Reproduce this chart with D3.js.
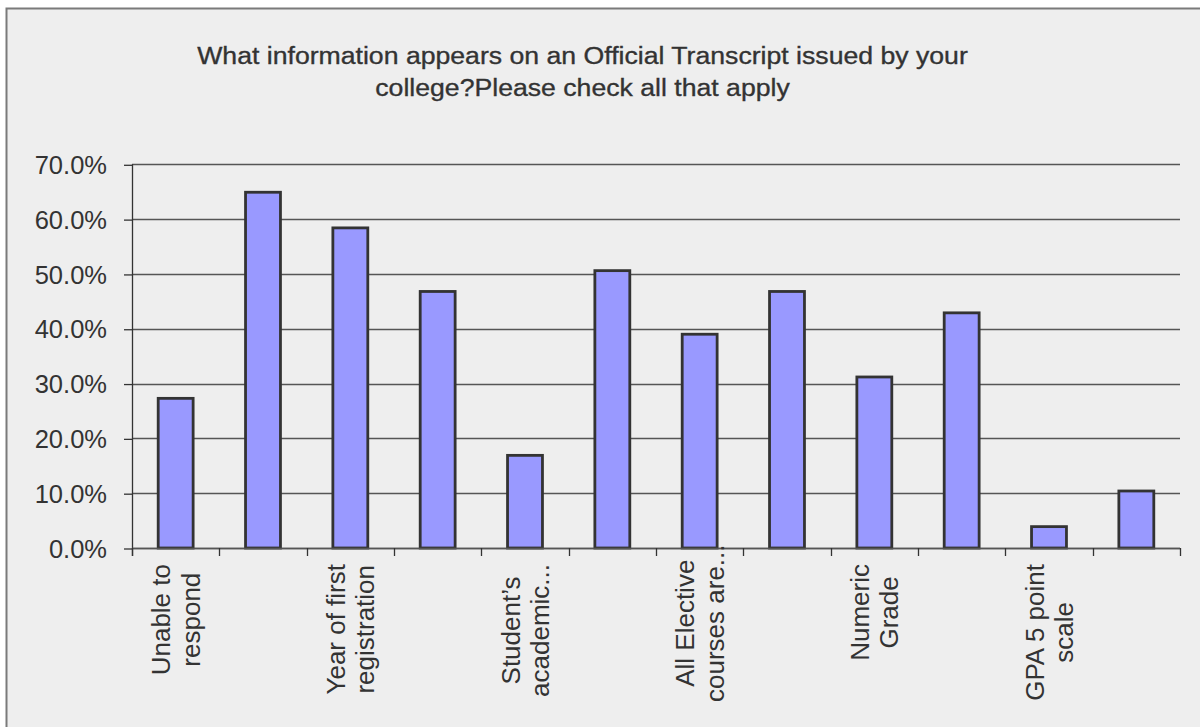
<!DOCTYPE html>
<html>
<head>
<meta charset="utf-8">
<script src="https://cdn.jsdelivr.net/npm/d3@7"></script>
<style>
  html, body { margin: 0; padding: 0; background: #ffffff; }
  svg { display: block; }
  text { font-family: "Liberation Sans", Arial, sans-serif; fill: #333333; }
</style>
</head>
<body>
<svg id="chart" width="1200" height="727"></svg>
<script>
// Survey answers: share of colleges reporting each item on the official transcript
const titleLines = [
  "What information appears on an Official Transcript issued by your",
  "college?Please check all that apply"
];
// Every other category label is shown on the axis; the rest stay blank
const categoryLabels = [
  ["Unable to", "respond"], [],
  ["Year of first", "registration"], [],
  ["Student\u2019s", "academic..."], [],
  ["All Elective", "courses are..."], [],
  ["Numeric", "Grade"], [],
  ["GPA 5 point", "scale"], []
];
const percentValues = [27.3, 64.9, 58.4, 46.8, 16.9, 50.6, 39.0, 46.8, 31.2, 42.9, 3.9, 10.4];
const yTickValues = [0, 10, 20, 30, 40, 50, 60, 70];

const svg = d3.select("#chart");

// Panel background with a thin frame on the top and left edges
svg.append("rect")
  .attr("x", 6.5).attr("y", 8.5)
  .attr("width", 1220).attr("height", 740)
  .attr("fill", "#eeeeee")
  .attr("stroke", "#7a7a7a")
  .attr("stroke-width", 2);

const plot = { left: 132, right: 1180, top: 164.3, bottom: 548 };

const x = d3.scaleBand()
  .domain(d3.range(percentValues.length))
  .range([plot.left, plot.right])
  .paddingInner(0.6)
  .paddingOuter(0.3);

const y = d3.scaleLinear()
  .domain([0, 70])
  .range([plot.bottom, plot.top]);

// Horizontal gridlines
svg.append("g")
  .selectAll("line")
  .data(yTickValues)
  .join("line")
  .attr("x1", plot.left).attr("x2", plot.right)
  .attr("y1", d => Math.round(y(d)) + 0.5)
  .attr("y2", d => Math.round(y(d)) + 0.5)
  .attr("stroke", "#555555")
  .attr("stroke-width", 1.3);

// Y axis with percentage labels
const yAxis = svg.append("g")
  .attr("transform", `translate(${plot.left},0)`)
  .call(d3.axisLeft(y)
    .tickValues(yTickValues)
    .tickSize(8)
    .tickPadding(17)
    .tickFormat(d => d3.format(".1f")(d) + "%"));
yAxis.select(".domain").remove();
yAxis.selectAll(".tick line").attr("stroke", "#333333").attr("stroke-width", 1.3)
  .attr("transform", "translate(0,0.5)");
yAxis.selectAll(".tick text")
  .attr("font-size", 25.5)
  .attr("font-family", "Liberation Sans, Arial, sans-serif")
  .attr("fill", "#333333")
  .attr("dy", "0.36em");

// Vertical axis line, running down to the first category tick
svg.append("line")
  .attr("x1", plot.left + 0.5).attr("x2", plot.left + 0.5)
  .attr("y1", plot.top).attr("y2", plot.bottom + 8)
  .attr("stroke", "#333333").attr("stroke-width", 1.3);

// Bars
svg.append("g")
  .selectAll("rect")
  .data(percentValues)
  .join("rect")
  .attr("x", (d, i) => x(i))
  .attr("y", d => y(d))
  .attr("width", x.bandwidth())
  .attr("height", d => y(0) - y(d))
  .attr("fill", "#9999ff")
  .attr("stroke", "#333333")
  .attr("stroke-width", 2.8);

// Category axis: baseline and tick marks on band boundaries
const step = x.step();
const boundaries = d3.range(percentValues.length + 1).map(i => plot.left + i * step);
svg.append("line")
  .attr("x1", plot.left).attr("x2", plot.right)
  .attr("y1", plot.bottom + 0.5).attr("y2", plot.bottom + 0.5)
  .attr("stroke", "#555555").attr("stroke-width", 1.3);
svg.append("g")
  .selectAll("line")
  .data(boundaries)
  .join("line")
  .attr("x1", d => Math.round(d) + 0.5).attr("x2", d => Math.round(d) + 0.5)
  .attr("y1", plot.bottom).attr("y2", plot.bottom + 8)
  .attr("stroke", "#333333").attr("stroke-width", 1.3);

// Rotated category labels, each line centred on the longest one;
// overlong (truncated) labels grow upward past the usual top edge
const labelFont = 26;
const lineGap = 29.5;
const labelTop = 564;
const labelMaxBottom = 702;
categoryLabels.forEach((lines, i) => {
  if (!lines.length) return;
  const cx = x(i) + x.bandwidth() / 2;
  const g = svg.append("g");
  const texts = lines.map(line => g.append("text")
    .attr("font-size", labelFont)
    .attr("text-anchor", "middle")
    .text(line));
  const maxLen = d3.max(texts, t => t.node().getComputedTextLength());
  const cy = Math.min(labelTop + maxLen / 2, labelMaxBottom - maxLen / 2);
  const firstBase = cx - (lines.length - 1) * lineGap / 2 + 0.36 * labelFont;
  texts.forEach((t, k) => {
    const bx = firstBase + k * lineGap;
    t.attr("transform", `translate(${bx},${cy}) rotate(-90)`);
  });
});

// Two-line title, condensed to its column width
const titleG = svg.append("g");
const titleTexts = titleLines.map((line, k) => titleG.append("text")
  .attr("x", 0)
  .attr("y", 64 + k * 32)
  .attr("font-size", 24.5)
  .attr("stroke", "#333333")
  .attr("stroke-width", 0.35)
  .attr("text-anchor", "middle")
  .text(line));
const natural = titleTexts[0].node().getComputedTextLength();
const sx = 771 / natural;
titleG.attr("transform", `translate(582.5,0) scale(${sx},1)`);
</script>
</body>
</html>
